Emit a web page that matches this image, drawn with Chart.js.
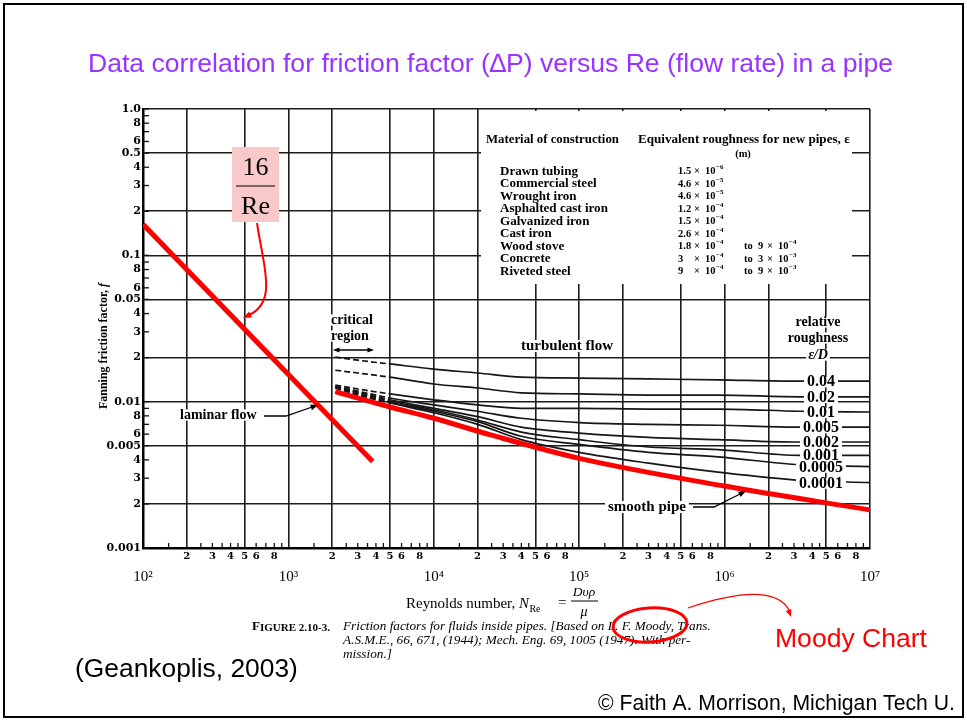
<!DOCTYPE html>
<html>
<head>
<meta charset="utf-8">
<script src="https://cdn.jsdelivr.net/npm/chart.js@4.4.1/dist/chart.umd.min.js"></script>
<style>
html,body{margin:0;padding:0;background:#fff;overflow:hidden}
canvas{display:block}
</style>
</head>
<body>
<canvas id="chart" width="967" height="721"></canvas>
<script>
// ---------------- DATA ----------------
// Laminar line 16/Re
const laminarRe = [100, 3800];
const laminarF  = [0.163, 0.0039];

// Smooth pipe curve
const smoothRe = [2100, 5000, 10000, 25000, 100000, 1000000, 10000000];
const smoothF  = [0.0117, 0.0092, 0.0077, 0.0059, 0.0041, 0.00265, 0.00182];

// Relative roughness curves (common Reynolds numbers)
const reynolds = [2100, 3000, 5000, 10000, 20000, 40000, 100000, 300000, 900000, 3300000, 10000000];
const roughnessLabels = ['0.04', '0.02', '0.01', '0.005', '0.002', '0.001', '0.0005', '0.0001'];
const fRough004   = [0.0202, 0.0192, 0.0181, 0.0167, 0.0157, 0.0147, 0.0145, 0.0143, 0.0141, 0.0138, 0.0138];
const fRough002   = [0.0164, 0.0157, 0.0147, 0.0132, 0.0124, 0.0115, 0.0113, 0.0111, 0.0111, 0.0108, 0.0108];
const fRough001   = [0.0130, 0.0122, 0.0113, 0.0103, 0.0095, 0.0090, 0.0090, 0.0089, 0.0089, 0.0086, 0.0085];
const fRough0005  = [0.0128, 0.0118, 0.0106, 0.0095, 0.0086, 0.0077, 0.0072, 0.0070, 0.0069, 0.0067, 0.0067];
const fRough0002  = [0.0126, 0.0116, 0.0103, 0.0090, 0.0079, 0.0067, 0.0061, 0.0057, 0.0055, 0.0053, 0.0053];
const fRough0001  = [0.0126, 0.0115, 0.0101, 0.0088, 0.0075, 0.0062, 0.0055, 0.0049, 0.0047, 0.0043, 0.0043];
const fRough00005 = [0.0124, 0.0113, 0.0099, 0.0086, 0.0073, 0.0058, 0.0051, 0.0045, 0.0042, 0.0037, 0.0036];
const fRough00001 = [0.0124, 0.0111, 0.0098, 0.0084, 0.0070, 0.0055, 0.0045, 0.0038, 0.0033, 0.0029, 0.0028];
const roughSeries = [fRough004, fRough002, fRough001, fRough0005, fRough0002, fRough0001, fRough00005, fRough00001];

// Tick labels
const xDecades      = [100, 1000, 10000, 100000, 1000000, 10000000];
const xDecadeLabels = ['10²', '10³', '10⁴', '10⁵', '10⁶', '10⁷'];
const xMinorLabels  = ['', '2', '3', '4', '5', '6', '', '8', ''];
const yDecades      = [0.001, 0.01, 0.1, 1];
const yDecadeLabels = ['0.001', '0.01', '0.1', '1.0'];
const yHalfLabels   = ['0.005', '0.05', '0.5'];
const yMinorLabels  = ['', '2', '3', '4', '5', '6', '', '8', ''];

// Table of materials
const materials = ['Drawn tubing', 'Commercial steel', 'Wrought iron', 'Asphalted cast iron', 'Galvanized iron', 'Cast iron', 'Wood stove', 'Concrete', 'Riveted steel'];
const roughMant  = ['1.5', '4.6', '4.6', '1.2', '1.5', '2.6', '1.8', '3', '9'];
const roughExp   = ['−6', '−5', '−5', '−4', '−4', '−4', '−4', '−4', '−4'];
const roughMant2 = [null, null, null, null, null, null, '9', '3', '9'];
const roughExp2  = [null, null, null, null, null, null, '−4', '−3', '−3'];

// ---------------- tick building ----------------
const xTicks = [];
xDecades.forEach((d, di) => {
  if (di === xDecades.length - 1) { xTicks.push({ value: d, label: ['', xDecadeLabels[di]] }); return; }
  for (let m = 1; m <= 9; m++) {
    xTicks.push(m === 1 ? { value: d, label: ['', xDecadeLabels[di]] }
                        : { value: m * d, label: xMinorLabels[m - 1] });
  }
});
const yTicks = [];
yDecades.forEach((d, di) => {
  if (di === yDecades.length - 1) { yTicks.push({ value: d, label: yDecadeLabels[di] }); return; }
  for (let m = 1; m <= 9; m++) {
    const lab = m === 1 ? yDecadeLabels[di] : (m === 5 ? yHalfLabels[di] : yMinorLabels[m - 1]);
    yTicks.push({ value: m * d, label: lab });
  }
});
function mantissa(v) { const e = Math.floor(Math.log10(v) + 1e-9); return Math.round(v / Math.pow(10, e)); }
function isMajor(v) { const m = mantissa(v); return m === 1 || m === 2 || m === 5; }

const SERIF = '"Liberation Serif", "Times New Roman", serif';
const SANS = '"Liberation Sans", Arial, sans-serif';
const DSERIF = '"DejaVu Serif", serif';

// ---------------- drawing helpers ----------------
function txt(c, s, x, y, font, o) {
  o = o || {};
  c.font = font;
  c.textAlign = o.align || 'left';
  c.textBaseline = o.base || 'middle';
  const w = c.measureText(s).width;
  if (o.bg) {
    const fs = parseFloat(font.match(/([\d.]+)px/)[1]);
    const lx = o.align === 'center' ? x - w / 2 : (o.align === 'right' ? x - w : x);
    const px = o.padX == null ? 2 : o.padX;
    const hh = (o.bgH || 0.8) * fs;
    c.fillStyle = o.bg;
    c.fillRect(lx - px, y - hh / 2, w + 2 * px, hh);
  }
  c.fillStyle = o.color || '#000';
  c.fillText(s, x, y);
  return w;
}
function fitSize(c, s, target, style, family) {
  c.font = style + ' 20px ' + family;
  return 20 * target / c.measureText(s).width;
}
function arrowHead(c, x1, y1, x2, y2, size, color) {
  const a = Math.atan2(y2 - y1, x2 - x1);
  c.save();
  c.fillStyle = color;
  c.beginPath();
  c.moveTo(x2, y2);
  c.lineTo(x2 - size * Math.cos(a - 0.38), y2 - size * Math.sin(a - 0.38));
  c.lineTo(x2 - size * Math.cos(a + 0.38), y2 - size * Math.sin(a + 0.38));
  c.closePath();
  c.fill();
  c.restore();
}
function pow10(c, x, y, mant, exp, font, supFont, xm, x10) {
  txt(c, mant, x, y, font);
  txt(c, '×', xm, y, font);
  const w = txt(c, '10', x10, y, font);
  txt(c, exp, x10 + w + 0.5, y - 4, supFont);
}

// ---------------- overlay plugin ----------------
const overlay = {
  id: 'overlay',
  beforeDraw(chart) {
    const c = chart.ctx;
    c.save();
    c.fillStyle = '#fff';
    c.fillRect(0, 0, chart.width, chart.height);
    c.restore();
  },
  beforeDatasetsDraw(chart) {
    const c = chart.ctx, xs = chart.scales.x, ys = chart.scales.y, a = chart.chartArea;
    c.save();
    // inward minor ticks
    c.strokeStyle = '#111';
    c.lineWidth = 1.3;
    yTicks.forEach(t => {
      const py = ys.getPixelForValue(t.value);
      c.beginPath(); c.moveTo(a.left, py); c.lineTo(a.left + 6, py); c.stroke();
    });
    xDecades.slice(0, -1).forEach(d => {
      [1.5, 2.5, 3, 3.5, 4, 4.5, 6, 7, 8, 9].forEach(m => {
        const px = xs.getPixelForValue(m * d);
        c.beginPath(); c.moveTo(px, a.bottom); c.lineTo(px, a.bottom - 5); c.stroke();
      });
    });
    // blank panel for the table of materials
    c.fillStyle = '#fff';
    c.fillRect(481, a.top + 2, 371, 284 - a.top - 2);
    c.restore();
  },
  afterDatasetsDraw(chart) {
    const c = chart.ctx, xs = chart.scales.x, ys = chart.scales.y;
    c.save();

    // roughness curve labels
    roughSeries.forEach((arr, k) => {
      const py = ys.getPixelForValue(arr[arr.length - 1]) + 1;
      const px = xs.getPixelForValue(4.6e6);
      txt(c, roughnessLabels[k], px, py, 'bold 16px ' + SERIF, { align: 'center', bg: '#fff', padX: 3, bgH: 0.65 });
    });

    // relative roughness header
    txt(c, 'relative', 818, 322, 'bold 14px ' + SERIF, { align: 'center', bg: '#fff' });
    txt(c, 'roughness', 818, 338, 'bold 14px ' + SERIF, { align: 'center', bg: '#fff' });
    txt(c, 'ε/D', 818, 355, 'bold italic 14px ' + SERIF, { align: 'center', bg: '#fff' });

    // turbulent flow
    txt(c, 'turbulent flow', 521, 346, 'bold 15px ' + SERIF, { bg: '#fff', padX: 3 });

    // critical region
    txt(c, 'critical', 331, 320, 'bold 14px ' + SERIF, { bg: '#fff' });
    txt(c, 'region', 331, 336, 'bold 14px ' + SERIF, { bg: '#fff' });
    c.strokeStyle = '#000'; c.lineWidth = 1.3;
    c.beginPath(); c.moveTo(335, 350); c.lineTo(372, 350); c.stroke();
    arrowHead(c, 345, 350, 333, 350, 7, '#000');
    arrowHead(c, 362, 350, 374, 350, 7, '#000');

    // laminar flow label
    txt(c, 'laminar flow', 180, 415, 'bold 14px ' + SERIF, { bg: '#fff' });
    c.beginPath(); c.moveTo(264, 416); c.lineTo(286, 416); c.lineTo(315, 406); c.stroke();
    arrowHead(c, 286, 416, 318, 405, 8, '#000');

    // smooth pipe label
    txt(c, 'smooth pipe', 608, 507, 'bold 15px ' + SERIF, { bg: '#fff', padX: 3 });
    c.beginPath(); c.moveTo(693, 507); c.lineTo(714, 507); c.lineTo(742, 493); c.stroke();
    arrowHead(c, 714, 507, 746, 491, 8, '#000');

    // table of materials
    txt(c, 'Material of construction', 486, 140, 'bold ' + fitSize(c, 'Material of construction', 133, 'bold', SERIF).toFixed(2) + 'px ' + SERIF);
    txt(c, 'Equivalent roughness for new pipes, ε', 638, 140, 'bold ' + fitSize(c, 'Equivalent roughness for new pipes, ε', 212, 'bold', SERIF).toFixed(2) + 'px ' + SERIF);
    txt(c, '(m)', 743, 154, 'bold 10.5px ' + SERIF, { align: 'center' });
    const nameSize = fitSize(c, 'Asphalted cast iron', 108, 'bold', SERIF);
    const tf = 'bold ' + nameSize.toFixed(2) + 'px ' + SERIF;
    const vf = 'bold 10.5px ' + SERIF, sf = 'bold 7px ' + SERIF;
    materials.forEach((m, i) => {
      const ty = 171.5 + i * 12.5;
      txt(c, m, 500, ty, tf);
      pow10(c, 678, ty, roughMant[i], roughExp[i], vf, sf, 694, 705);
      if (roughMant2[i]) {
        txt(c, 'to', 744, ty, vf);
        pow10(c, 758, ty, roughMant2[i], roughExp2[i], vf, sf, 767, 778);
      }
    });

    // y-axis title
    c.save();
    c.translate(104, 346);
    c.rotate(-Math.PI / 2);
    c.font = 'bold 12px ' + SERIF;
    const t1 = 'Fanning friction factor, ';
    const w1 = c.measureText(t1).width;
    c.font = 'bold italic 12px ' + SERIF;
    const w2 = c.measureText('f').width;
    txt(c, t1, -(w1 + w2) / 2, 0, 'bold 12px ' + SERIF);
    txt(c, 'f', -(w1 + w2) / 2 + w1, 0, 'bold italic 12px ' + SERIF);
    c.restore();

    // x-axis title
    const xf = fitSize(c, 'Reynolds number, ', 113, '', SERIF).toFixed(2) + 'px ' + SERIF;
    const wr = txt(c, 'Reynolds number, ', 406, 604, xf);
    const wn = txt(c, 'N', 406 + wr, 604, 'italic ' + xf);
    txt(c, 'Re', 406 + wr + wn + 0.5, 609, '10px ' + SERIF);
    txt(c, '=', 558, 603, xf);
    txt(c, 'Dυρ', 584, 592, 'italic 13.5px ' + SERIF, { align: 'center' });
    c.strokeStyle = '#000'; c.lineWidth = 1;
    c.beginPath(); c.moveTo(571, 601); c.lineTo(598, 601); c.stroke();
    txt(c, 'μ', 584, 612, 'italic 14px ' + SERIF, { align: 'center' });

    // caption
    const wf = txt(c, 'F', 252, 627, 'bold 13px ' + SERIF);
    c.font = 'bold 20px ' + SERIF;
    const restSize = 20 * (78 - wf) / c.measureText('IGURE 2.10-3.').width;
    txt(c, 'IGURE 2.10-3.', 252 + wf, 628, 'bold ' + restSize.toFixed(2) + 'px ' + SERIF);
    const capLines = ['Friction factors for fluids inside pipes. [Based on L. F. Moody, Trans.',
                      'A.S.M.E., 66, 671, (1944); Mech. Eng. 69, 1005 (1947). With per-',
                      'mission.]'];
    const cs = fitSize(c, capLines[0], 368, 'italic', SERIF);
    capLines.forEach((s, i) => txt(c, s, 343, 627 + i * 14, 'italic ' + cs.toFixed(2) + 'px ' + SERIF));

    // 16/Re annotation
    c.fillStyle = '#f9c8c8';
    c.fillRect(232, 147, 47, 75);
    txt(c, '16', 255.5, 168, '26px ' + SERIF, { align: 'center' });
    c.strokeStyle = '#000'; c.lineWidth = 1.2;
    c.beginPath(); c.moveTo(236, 186); c.lineTo(275, 186); c.stroke();
    txt(c, 'Re', 255.5, 207, '26px ' + SERIF, { align: 'center' });
    c.strokeStyle = '#ff0000'; c.lineWidth = 2;
    c.beginPath(); c.moveTo(257, 223); c.bezierCurveTo(263, 265, 278, 302, 249, 315); c.stroke();
    arrowHead(c, 262, 309, 243, 318, 9, '#ff0000');

    // Moody ellipse + arrow
    c.strokeStyle = '#ff0000'; c.lineWidth = 3;
    c.beginPath(); c.ellipse(650, 625, 37, 17, -0.06, 0, Math.PI * 2); c.stroke();
    c.lineWidth = 1.3;
    c.beginPath(); c.moveTo(688, 608); c.quadraticCurveTo(772, 580, 789, 610); c.stroke();
    arrowHead(c, 786, 603, 791, 617, 8, '#ff0000');

    // slide texts
    const ms = fitSize(c, 'Moody Chart', 152, '', SANS);
    txt(c, 'Moody Chart', 775, 640, ms.toFixed(2) + 'px ' + SANS, { color: '#ff0000' });
    const gs = fitSize(c, '(Geankoplis, 2003)', 223, '', SANS);
    txt(c, '(Geankoplis, 2003)', 75, 670, gs.toFixed(2) + 'px ' + SANS);
    const fs = fitSize(c, '© Faith A. Morrison, Michigan Tech U.', 357, '', SANS);
    txt(c, '© Faith A. Morrison, Michigan Tech U.', 598, 704, fs.toFixed(2) + 'px ' + SANS);
    const title = 'Data correlation for friction factor (∆P) versus Re (flow rate) in a pipe';
    const ts = fitSize(c, title, 805, '', SANS);
    txt(c, title, 490.5, 65, ts.toFixed(2) + 'px ' + SANS, { align: 'center', color: '#9933ff' });

    // slide frame
    c.strokeStyle = '#000'; c.lineWidth = 2;
    c.strokeRect(4, 4, 959, 713);
    c.restore();
  }
};

// ---------------- chart ----------------
const datasets = [
  { label: '16/Re (laminar flow)', data: laminarRe.map((x, i) => ({ x, y: laminarF[i] })),
    showLine: true, borderColor: '#ff0000', borderWidth: 5, pointRadius: 0, order: 0 },
  { label: 'smooth pipe', data: smoothRe.map((x, i) => ({ x, y: smoothF[i] })),
    showLine: true, borderColor: '#ff0000', borderWidth: 5, pointRadius: 0, order: 1,
    cubicInterpolationMode: 'monotone' },
  ...roughSeries.map((arr, k) => ({
    label: 'ε/D = ' + roughnessLabels[k], data: reynolds.map((x, i) => ({ x, y: arr[i] })),
    showLine: true, borderColor: '#161616', borderWidth: 1.7, pointRadius: 0, order: 2,
    cubicInterpolationMode: 'monotone',
    segment: { borderDash: ctx => (ctx.p0DataIndex < 2 ? [6, 3] : undefined) }
  }))
];

new Chart(document.getElementById('chart'), {
  type: 'scatter',
  data: { datasets },
  options: {
    responsive: false,
    animation: false,
    devicePixelRatio: 1,
    layout: { padding: { left: 0, right: 97, top: 109, bottom: 131 } },
    plugins: { legend: { display: false }, tooltip: { enabled: false }, title: { display: false } },
    scales: {
      x: {
        type: 'logarithmic', min: 100, max: 10000000, position: 'bottom',
        afterBuildTicks: s => { s.ticks = xTicks.map(t => ({ value: t.value })); },
        afterFit: s => { s.height = 42; },
        ticks: {
          autoSkip: false, maxRotation: 0, minRotation: 0, padding: 2, color: '#000',
          callback: (v, i) => xTicks[i].label,
          font: ctx => (ctx.tick && mantissa(ctx.tick.value) === 1)
            ? { family: SERIF, size: 15, weight: 'normal', lineHeight: 1.2 }
            : { family: DSERIF, size: 10, weight: 'bold', lineHeight: 1.2 }
        },
        grid: {
          drawTicks: false, lineWidth: 1.6,
          color: ctx => (ctx.tick && isMajor(ctx.tick.value)) ? '#1c1c1c' : 'rgba(0,0,0,0)'
        },
        border: { display: true, color: '#000', width: 2.5 }
      },
      y: {
        type: 'logarithmic', min: 0.001, max: 1, position: 'left',
        afterBuildTicks: s => { s.ticks = yTicks.map(t => ({ value: t.value })); },
        afterFit: s => { s.width = 143; },
        ticks: {
          autoSkip: false, padding: 2, color: '#000',
          callback: (v, i) => yTicks[i].label,
          font: { family: DSERIF, size: 11, weight: 'bold' }
        },
        grid: {
          drawTicks: false, lineWidth: 1.6,
          color: ctx => (ctx.tick && isMajor(ctx.tick.value)) ? '#1c1c1c' : 'rgba(0,0,0,0)'
        },
        border: { display: true, color: '#000', width: 2.5 }
      }
    }
  },
  plugins: [overlay]
});
</script>
</body>
</html>
